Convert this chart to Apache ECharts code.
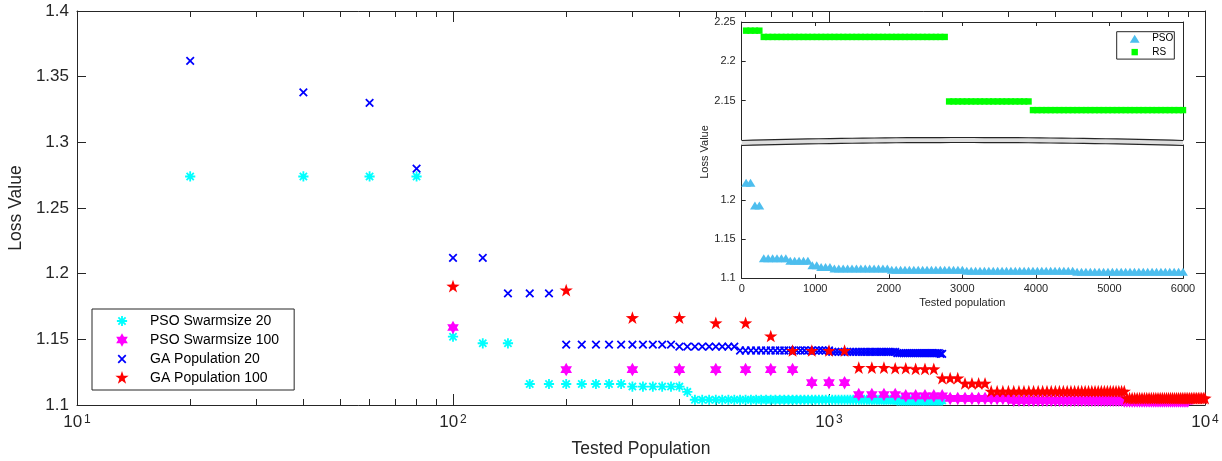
<!DOCTYPE html>
<html>
<head>
<meta charset="utf-8">
<script src="https://cdn.jsdelivr.net/npm/echarts@6/dist/echarts.min.js"></script>
<style>
  html, body { margin: 0; padding: 0; background: #fff; }
  #chart { width: 1222px; height: 461px; }
</style>
</head>
<body>
<div id="chart"></div>
<script>
// ---------- main panel: loss value against tested population ----------
const steps20 = [
  20, 40, 60, 80, 100, 120, 140, 160, 180, 200,
  220, 240, 260, 280, 300, 320, 340, 360, 380, 400,
  420, 440, 460, 480, 500, 520, 540, 560, 580, 600,
  620, 640, 660, 680, 700, 720, 740, 760, 780, 800,
  820, 840, 860, 880, 900, 920, 940, 960, 980, 1000,
  1020, 1040, 1060, 1080, 1100, 1120, 1140, 1160, 1180, 1200,
  1220, 1240, 1260, 1280, 1300, 1320, 1340, 1360, 1380, 1400,
  1420, 1440, 1460, 1480, 1500, 1520, 1540, 1560, 1580, 1600,
  1620, 1640, 1660, 1680, 1700, 1720, 1740, 1760, 1780, 1800,
  1820, 1840, 1860, 1880, 1900, 1920, 1940, 1960, 1980, 2000
];
const steps100 = [
  100, 200, 300, 400, 500, 600, 700, 800, 900, 1000,
  1100, 1200, 1300, 1400, 1500, 1600, 1700, 1800, 1900, 2000,
  2100, 2200, 2300, 2400, 2500, 2600, 2700, 2800, 2900, 3000,
  3100, 3200, 3300, 3400, 3500, 3600, 3700, 3800, 3900, 4000,
  4100, 4200, 4300, 4400, 4500, 4600, 4700, 4800, 4900, 5000,
  5100, 5200, 5300, 5400, 5500, 5600, 5700, 5800, 5900, 6000,
  6100, 6200, 6300, 6400, 6500, 6600, 6700, 6800, 6900, 7000,
  7100, 7200, 7300, 7400, 7500, 7600, 7700, 7800, 7900, 8000,
  8100, 8200, 8300, 8400, 8500, 8600, 8700, 8800, 8900, 9000,
  9100, 9200, 9300, 9400, 9500, 9600, 9700, 9800, 9900, 10000
];

const psoSwarm20Tested = steps20;
const psoSwarm20Loss = [
  1.274, 1.274, 1.274, 1.274, 1.152, 1.147, 1.147, 1.116, 1.116, 1.116,
  1.116, 1.116, 1.116, 1.116, 1.114, 1.114, 1.114, 1.114, 1.114, 1.114,
  1.110, 1.104, 1.104, 1.104, 1.104, 1.104, 1.104, 1.104, 1.104, 1.104,
  1.104, 1.104, 1.104, 1.104, 1.104, 1.104, 1.104, 1.104, 1.104, 1.104,
  1.104, 1.104, 1.104, 1.104, 1.104, 1.104, 1.104, 1.104, 1.104, 1.104,
  1.104, 1.104, 1.104, 1.104, 1.104, 1.104, 1.104, 1.104, 1.104, 1.104,
  1.104, 1.104, 1.104, 1.104, 1.104, 1.104, 1.104, 1.104, 1.104, 1.104,
  1.104, 1.104, 1.104, 1.104, 1.104, 1.1035, 1.1035, 1.1035, 1.1035, 1.1035,
  1.1035, 1.1035, 1.1035, 1.1035, 1.1035, 1.1035, 1.1035, 1.1035, 1.1035, 1.1035,
  1.1035, 1.1035, 1.1035, 1.1035, 1.1035, 1.1035, 1.1035, 1.1035, 1.1035, 1.1035
];

const psoSwarm100Tested = steps100.slice(0, 90);
const psoSwarm100Loss = [
  1.159, 1.127, 1.127, 1.127, 1.127, 1.127, 1.127, 1.127, 1.117, 1.117,
  1.117, 1.108, 1.108, 1.108, 1.108, 1.107, 1.107, 1.107, 1.107, 1.107,
  1.105, 1.105, 1.105, 1.105, 1.105, 1.105, 1.105, 1.105, 1.105, 1.105,
  1.1035, 1.1035, 1.1035, 1.1035, 1.1035, 1.1035, 1.1035, 1.1035, 1.1035, 1.1035,
  1.1035, 1.1035, 1.1035, 1.1035, 1.1035, 1.1035, 1.1035, 1.1035, 1.1035, 1.1035,
  1.1035, 1.1035, 1.1035, 1.1035, 1.1035, 1.1035, 1.1035, 1.1035, 1.1035, 1.1035,
  1.103, 1.103, 1.103, 1.103, 1.103, 1.103, 1.103, 1.103, 1.103, 1.103,
  1.103, 1.103, 1.103, 1.103, 1.103, 1.103, 1.103, 1.103, 1.103, 1.103,
  1.103, 1.103, 1.103, 1.103, 1.103, 1.103, 1.103, 1.103, 1.103, 1.103
];

const gaPop20Tested = steps20;
const gaPop20Loss = [
  1.362, 1.338, 1.330, 1.280, 1.212, 1.212, 1.185, 1.185, 1.185, 1.146,
  1.146, 1.146, 1.146, 1.146, 1.146, 1.146, 1.146, 1.146, 1.146, 1.1445,
  1.1445, 1.1445, 1.1445, 1.1445, 1.1445, 1.1445, 1.1445, 1.1445, 1.1415, 1.1415,
  1.1415, 1.1415, 1.1415, 1.1415, 1.1415, 1.1415, 1.1415, 1.1415, 1.1415, 1.1415,
  1.1415, 1.1415, 1.1415, 1.1415, 1.1415, 1.1415, 1.1415, 1.1415, 1.1415, 1.1415,
  1.1405, 1.1405, 1.1405, 1.1405, 1.1405, 1.1405, 1.1405, 1.1405, 1.1405, 1.1405,
  1.1405, 1.1405, 1.1405, 1.1405, 1.1405, 1.1405, 1.1405, 1.1405, 1.1405, 1.1405,
  1.1405, 1.1405, 1.1405, 1.1405, 1.1405, 1.1395, 1.1395, 1.1395, 1.1395, 1.1395,
  1.1395, 1.1395, 1.1395, 1.1395, 1.1395, 1.1395, 1.1395, 1.1395, 1.1395, 1.1395,
  1.1395, 1.1395, 1.1395, 1.1395, 1.1395, 1.1395, 1.1395, 1.1395, 1.1390, 1.1390
];

const gaPop100Tested = steps100;
const gaPop100Loss = [
  1.190, 1.187, 1.166, 1.166, 1.162, 1.162, 1.152, 1.141, 1.141, 1.141,
  1.141, 1.128, 1.128, 1.128, 1.1275, 1.1275, 1.127, 1.127, 1.127, 1.120,
  1.120, 1.120, 1.116, 1.116, 1.116, 1.116, 1.110, 1.110, 1.110, 1.110,
  1.110, 1.110, 1.110, 1.110, 1.110, 1.110, 1.110, 1.110, 1.110, 1.110,
  1.110, 1.110, 1.110, 1.110, 1.110, 1.110, 1.110, 1.110, 1.110, 1.110,
  1.110, 1.110, 1.110, 1.110, 1.110, 1.110, 1.110, 1.110, 1.110, 1.110,
  1.110, 1.1047, 1.1047, 1.1047, 1.1047, 1.1047, 1.1047, 1.1047, 1.1047, 1.1047,
  1.1047, 1.1047, 1.1047, 1.1047, 1.1047, 1.1047, 1.1047, 1.1047, 1.1047, 1.1047,
  1.1047, 1.1047, 1.1047, 1.1047, 1.1047, 1.1047, 1.1047, 1.1047, 1.1047, 1.1047,
  1.1047, 1.1047, 1.1047, 1.1047, 1.1047, 1.1047, 1.1047, 1.1047, 1.1047, 1.1047
];

// log-axis tick positions
const decadeTicks = [10, 100, 1000, 10000];
const minorTicks = [
  20, 30, 40, 50, 60, 70, 80, 90,
  200, 300, 400, 500, 600, 700, 800, 900,
  2000, 3000, 4000, 5000, 6000, 7000, 8000, 9000
];

// ---------- inset: PSO vs random search (broken y axis) ----------
const insetTested = [
  60, 120, 180, 240, 300, 360, 420, 480, 540, 600,
  660, 720, 780, 840, 900, 960, 1020, 1080, 1140, 1200,
  1260, 1320, 1380, 1440, 1500, 1560, 1620, 1680, 1740, 1800,
  1860, 1920, 1980, 2040, 2100, 2160, 2220, 2280, 2340, 2400,
  2460, 2520, 2580, 2640, 2700, 2760, 2820, 2880, 2940, 3000,
  3060, 3120, 3180, 3240, 3300, 3360, 3420, 3480, 3540, 3600,
  3660, 3720, 3780, 3840, 3900, 3960, 4020, 4080, 4140, 4200,
  4260, 4320, 4380, 4440, 4500, 4560, 4620, 4680, 4740, 4800,
  4860, 4920, 4980, 5040, 5100, 5160, 5220, 5280, 5340, 5400,
  5460, 5520, 5580, 5640, 5700, 5760, 5820, 5880, 5940, 6000
];
const insetPsoLoss = [
  1.222, 1.222, 1.193, 1.193, 1.1255, 1.1255, 1.1255, 1.1255, 1.1255, 1.1255,
  1.1225, 1.1225, 1.1225, 1.1225, 1.1225, 1.1165, 1.1165, 1.1145, 1.1145, 1.1145,
  1.1125, 1.1125, 1.1125, 1.1125, 1.1125, 1.1125, 1.1125, 1.1125, 1.1125, 1.1125,
  1.1125, 1.1125, 1.1125, 1.111, 1.111, 1.111, 1.111, 1.111, 1.111, 1.111,
  1.111, 1.111, 1.111, 1.111, 1.111, 1.111, 1.111, 1.111, 1.111, 1.111,
  1.1095, 1.1095, 1.1095, 1.1095, 1.1095, 1.1095, 1.1095, 1.1095, 1.1095, 1.1095,
  1.1095, 1.1095, 1.1095, 1.1095, 1.1095, 1.1095, 1.1095, 1.1095, 1.1095, 1.1095,
  1.1095, 1.1095, 1.1095, 1.1095, 1.1095, 1.1085, 1.1085, 1.1085, 1.1085, 1.1085,
  1.1085, 1.1085, 1.1085, 1.1085, 1.1085, 1.1085, 1.1085, 1.1085, 1.1085, 1.1085,
  1.1085, 1.1085, 1.1085, 1.1085, 1.1085, 1.1085, 1.1085, 1.1085, 1.1085, 1.1085
];
const insetRsLoss = [
  2.239, 2.239, 2.239, 2.239, 2.231, 2.231, 2.231, 2.231, 2.231, 2.231,
  2.231, 2.231, 2.231, 2.231, 2.231, 2.231, 2.231, 2.231, 2.231, 2.231,
  2.231, 2.231, 2.231, 2.231, 2.231, 2.231, 2.231, 2.231, 2.231, 2.231,
  2.231, 2.231, 2.231, 2.231, 2.231, 2.231, 2.231, 2.231, 2.231, 2.231,
  2.231, 2.231, 2.231, 2.231, 2.231, 2.231, 2.149, 2.149, 2.149, 2.149,
  2.149, 2.149, 2.149, 2.149, 2.149, 2.149, 2.149, 2.149, 2.149, 2.149,
  2.149, 2.149, 2.149, 2.149, 2.149, 2.138, 2.138, 2.138, 2.138, 2.138,
  2.138, 2.138, 2.138, 2.138, 2.138, 2.138, 2.138, 2.138, 2.138, 2.138,
  2.138, 2.138, 2.138, 2.138, 2.138, 2.138, 2.138, 2.138, 2.138, 2.138,
  2.138, 2.138, 2.138, 2.138, 2.138, 2.138, 2.138, 2.138, 2.138, 2.138
];

const insetLowTicks = [1.1, 1.15, 1.2];
const insetHighTicks = [2.15, 2.2, 2.25];

// ---------- marker shapes ----------
// Every marker lives in a fixed square frame so that plot markers and
// legend icons keep the same relative size.
const FRAME10 = 'M-10 -10L-10 -10M10 10L10 10';
const FRAME5 = 'M-5 -5L-5 -5M5 5L5 5';
function fmt(v) { return v.toFixed(2); }
function starSymbol(points, outer, inner) {
  let d = '';
  for (let k = 0; k < points * 2; k++) {
    const r = k % 2 ? inner : outer;
    const a = -Math.PI / 2 + k * Math.PI / points;
    d += (k ? 'L' : 'M') + fmt(r * Math.cos(a)) + ' ' + fmt(r * Math.sin(a));
  }
  return 'path://' + FRAME10 + d + 'Z';
}
function spokeSymbol(anglesDeg, len, half) {
  let d = '';
  anglesDeg.forEach(function (deg) {
    const a = deg * Math.PI / 180, c = Math.cos(a), s = Math.sin(a);
    const pts = [
      [len * c - half * s, len * s + half * c],
      [len * c + half * s, len * s - half * c],
      [-len * c + half * s, -len * s - half * c],
      [-len * c - half * s, -len * s + half * c]
    ];
    d += 'M' + pts.map(function (p) { return fmt(p[0]) + ' ' + fmt(p[1]); }).join('L') + 'Z';
  });
  return 'path://' + FRAME10 + d;
}
const asteriskSymbol = spokeSymbol([0, 45, 90, 135], 7.3, 1.3);
const crossSymbol = spokeSymbol([45, 135], 7.6, 1.25);
const hexagramSymbol = starSymbol(6, 9.6, 9.6 / Math.sqrt(3));
const pentagramSymbol = starSymbol(5, 10, 3.9);
const triangleSymbol = 'path://' + FRAME5 + 'M0 -4L4.9 4L-4.9 4Z';
const squareSymbol = 'path://' + FRAME5 + 'M-3.2 -3.2L3.2 -3.2L3.2 3.2L-3.2 3.2Z';

// ---------- styling helpers ----------
const INK = '#262626';
const FONT = '"Liberation Sans", Arial, Helvetica, sans-serif';
const axisLine = { show: true, onZero: false, lineStyle: { color: INK, width: 1 } };
const noLine = { show: false };
const noLabel = { show: false };
const noSplit = { show: false };

function pairs(xs, ys) { return xs.map(function (x, i) { return [x, ys[i]]; }); }

function logAxis(position, tickValues, tickLen, withLabels) {
  const ax = {
    type: 'log', logBase: 10, min: 10, max: 10000, gridIndex: 0,
    position: position,
    axisLine: tickLen > 10 ? axisLine : noLine,
    axisTick: { show: true, inside: true, length: tickLen, customValues: tickValues,
                lineStyle: { color: INK, width: 1 } },
    axisLabel: noLabel,
    splitLine: noSplit,
    minorTick: { show: false }
  };
  if (withLabels) {
    ax.axisLabel = {
      show: true, customValues: decadeTicks, margin: 9,
      formatter: function (v) {
        const e = Math.round(Math.log(v) / Math.LN10);
        return '{b|10}{s|' + e + '}';
      },
      rich: {
        b: { fontSize: 17, color: INK, fontFamily: FONT },
        s: { fontSize: 12, color: INK, fontFamily: FONT, verticalAlign: 'top', padding: [0, 0, 0, 2] }
      }
    };
    ax.name = 'Tested Population';
    ax.nameLocation = 'middle';
    ax.nameGap = 35;
    ax.nameTextStyle = { fontSize: 17.5, color: INK, fontFamily: FONT };
  }
  return ax;
}

// band drawn across the broken inset axis
const waveLeft = 741.7, waveRight = 1183;
function wavePoints(yEnd, yMid, n) {
  const pts = [];
  for (let i = 0; i <= n; i++) {
    const t = i / n;
    const x = waveLeft + (waveRight - waveLeft) * t;
    const y = yEnd - (yEnd - yMid) * 4 * t * (1 - t);
    pts.push([x, y]);
  }
  return pts;
}
const waveUpper = wavePoints(140.5, 137.5, 40);
const waveLower = wavePoints(145.5, 142.5, 40);

const chart = echarts.init(document.getElementById('chart'), null, { renderer: 'canvas' });

chart.setOption({
  animation: false,
  backgroundColor: '#fff',
  textStyle: { fontFamily: FONT },
  grid: [
    { left: 77, right: 17, top: 11, bottom: 56, containLabel: false, outerBoundsMode: 'none' },
    { left: 741.7, right: 39, top: 22, bottom: 321, containLabel: false, outerBoundsMode: 'none' },
    { left: 741.7, right: 39, top: 145, bottom: 182.7, containLabel: false, outerBoundsMode: 'none' }
  ],
  xAxis: [
    logAxis('bottom', decadeTicks, 11, true),
    logAxis('bottom', minorTicks, 6, false),
    logAxis('top', decadeTicks, 11, false),
    logAxis('top', minorTicks, 6, false),
    {
      type: 'value', gridIndex: 1, position: 'top', min: 0, max: 6000, interval: 1000,
      axisLine: axisLine,
      axisTick: { show: true, inside: true, length: 4, lineStyle: { color: INK } },
      axisLabel: noLabel, splitLine: noSplit
    },
    {
      type: 'value', gridIndex: 2, position: 'bottom', min: 0, max: 6000, interval: 1000,
      axisLine: axisLine,
      axisTick: { show: true, inside: true, length: 4, lineStyle: { color: INK } },
      axisLabel: { show: true, fontSize: 11, color: INK, margin: 5,
                   formatter: function (v) { return String(v); } },
      splitLine: noSplit,
      name: 'Tested population', nameLocation: 'middle', nameGap: 19,
      nameTextStyle: { fontSize: 11, color: INK }
    }
  ],
  yAxis: [
    {
      type: 'value', gridIndex: 0, position: 'left', min: 1.1, max: 1.4, interval: 0.05,
      axisLine: axisLine,
      axisTick: { show: true, inside: true, length: 9, lineStyle: { color: INK } },
      axisLabel: { show: true, fontSize: 17, color: INK, margin: 8 },
      splitLine: noSplit,
      name: 'Loss Value', nameLocation: 'middle', nameGap: 48, nameRotate: 90,
      nameTextStyle: { fontSize: 17.5, color: INK }
    },
    {
      type: 'value', gridIndex: 0, position: 'right', min: 1.1, max: 1.4, interval: 0.05,
      axisLine: axisLine,
      axisTick: { show: true, inside: true, length: 9, lineStyle: { color: INK } },
      axisLabel: noLabel, splitLine: noSplit
    },
    {
      type: 'value', gridIndex: 1, position: 'left', min: 2.1, max: 2.25, interval: 0.05,
      axisLine: axisLine,
      axisTick: { show: true, inside: true, length: 4, customValues: insetHighTicks, lineStyle: { color: INK } },
      axisLabel: { show: true, fontSize: 11, color: INK, margin: 6, customValues: insetHighTicks },
      splitLine: noSplit
    },
    {
      type: 'value', gridIndex: 1, position: 'right', min: 2.1, max: 2.25, interval: 0.05,
      axisLine: axisLine, axisTick: { show: false }, axisLabel: noLabel, splitLine: noSplit
    },
    {
      type: 'value', gridIndex: 2, position: 'left', min: 1.1, max: 1.27, interval: 0.05,
      axisLine: axisLine,
      axisTick: { show: true, inside: true, length: 4, customValues: insetLowTicks, lineStyle: { color: INK } },
      axisLabel: { show: true, fontSize: 11, color: INK, margin: 6, customValues: insetLowTicks },
      splitLine: noSplit
    },
    {
      type: 'value', gridIndex: 2, position: 'right', min: 1.1, max: 1.27, interval: 0.05,
      axisLine: axisLine, axisTick: { show: false }, axisLabel: noLabel, splitLine: noSplit
    }
  ],
  legend: [
    {
      data: ['PSO Swarmsize 20', 'PSO Swarmsize 100', 'GA Population 20', 'GA Population 100'],
      orient: 'vertical', left: 92, top: 309,
      itemWidth: 46, itemHeight: 14, itemGap: 5,
      padding: [5, 15, 5, 23],
      backgroundColor: '#fff', borderColor: INK, borderWidth: 1, borderRadius: 0,
      textStyle: { fontSize: 14, color: '#000', fontFamily: FONT },
      selectedMode: false
    },
    {
      data: ['PSO', 'RS'],
      orient: 'vertical', left: 1116.7, top: 31.7,
      itemWidth: 25, itemHeight: 10, itemGap: 3.4,
      padding: [2, 1, 2, 13],
      backgroundColor: '#fff', borderColor: INK, borderWidth: 1, borderRadius: 0,
      textStyle: { fontSize: 10, color: '#000', fontFamily: FONT },
      selectedMode: false
    }
  ],
  graphic: [
    {
      type: 'polygon', silent: true, z: 100,
      shape: { points: waveUpper.concat(waveLower.slice().reverse()) },
      style: { fill: '#dedede', stroke: null }
    },
    {
      type: 'polyline', silent: true, z: 101,
      shape: { points: waveUpper },
      style: { stroke: INK, lineWidth: 1.2, fill: null }
    },
    {
      type: 'polyline', silent: true, z: 101,
      shape: { points: waveLower },
      style: { stroke: INK, lineWidth: 1.2, fill: null }
    },
    {
      type: 'text', silent: true, x: 705, y: 152, rotation: Math.PI / 2,
      style: { text: 'Loss Value', fontSize: 11, fill: INK, fontFamily: FONT,
               align: 'center', verticalAlign: 'middle' }
    }
  ],
  series: [
    {
      name: 'PSO Swarmsize 20', type: 'scatter', xAxisIndex: 0, yAxisIndex: 0,
      symbol: asteriskSymbol, symbolSize: 14,
      itemStyle: { color: '#00FFFF', opacity: 1 },
      data: pairs(psoSwarm20Tested, psoSwarm20Loss)
    },
    {
      name: 'PSO Swarmsize 100', type: 'scatter', xAxisIndex: 0, yAxisIndex: 0,
      symbol: hexagramSymbol, symbolSize: 14,
      itemStyle: { color: '#FF00FF', opacity: 1 },
      data: pairs(psoSwarm100Tested, psoSwarm100Loss)
    },
    {
      name: 'GA Population 20', type: 'scatter', xAxisIndex: 0, yAxisIndex: 0,
      symbol: crossSymbol, symbolSize: 14,
      itemStyle: { color: '#0000FF', opacity: 1 },
      data: pairs(gaPop20Tested, gaPop20Loss)
    },
    {
      name: 'GA Population 100', type: 'scatter', xAxisIndex: 0, yAxisIndex: 0,
      symbol: pentagramSymbol, symbolSize: 14,
      itemStyle: { color: '#FF0000', opacity: 1 },
      data: pairs(gaPop100Tested, gaPop100Loss)
    },
    {
      name: 'PSO', type: 'scatter', xAxisIndex: 5, yAxisIndex: 4,
      symbol: triangleSymbol, symbolSize: 10,
      itemStyle: { color: '#4DBEEE', opacity: 1 },
      data: pairs(insetTested, insetPsoLoss)
    },
    {
      name: 'RS', type: 'scatter', xAxisIndex: 4, yAxisIndex: 2,
      symbol: squareSymbol, symbolSize: 10,
      itemStyle: { color: '#00FF00', opacity: 1 },
      data: pairs(insetTested, insetRsLoss)
    }
  ]
});
</script>
</body>
</html>
